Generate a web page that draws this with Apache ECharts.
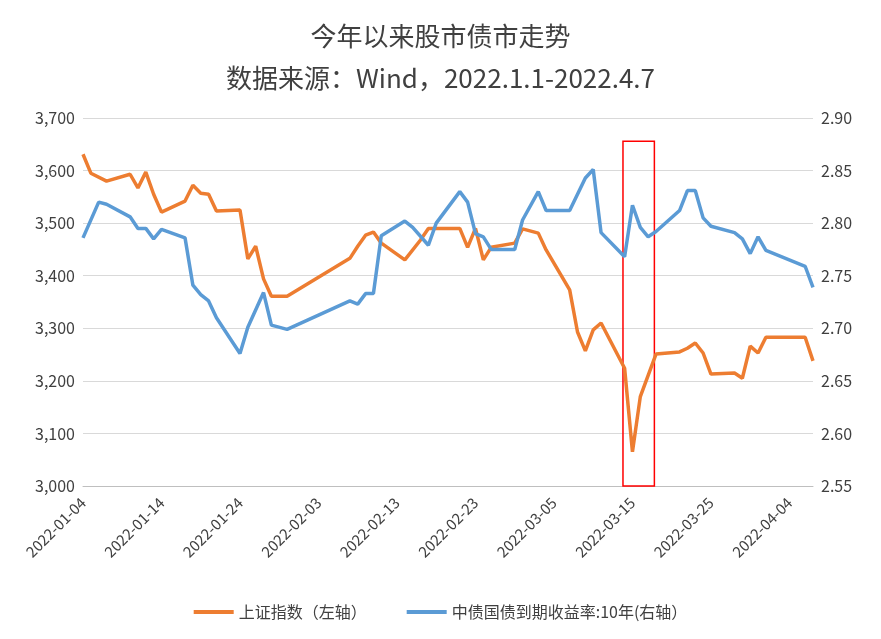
<!DOCTYPE html>
<html>
<head>
<meta charset="UTF-8">
<script src="https://cdn.jsdelivr.net/npm/echarts@6/dist/echarts.min.js"></script>
<style>html,body{margin:0;padding:0;background:#fff}#chart{width:881px;height:639px}</style>
</head>
<body>
<div id="chart"></div>
<script>
// 上证指数（左轴）
var shDates = ['01-04','01-05','01-07','01-10','01-11','01-12','01-13','01-14','01-17','01-18','01-19','01-20','01-21','01-24','01-25','01-26','01-27','01-28','01-30','02-07','02-08','02-09','02-10','02-11','02-14','02-16','02-17','02-21','02-22','02-23','02-24','02-25','02-28','03-01','03-03','03-04','03-07','03-08','03-09','03-10','03-11','03-14','03-15','03-16','03-18','03-21','03-22','03-23','03-24','03-25','03-28','03-29','03-30','03-31','04-01','04-06','04-07'];
var shValues = [3631,3595,3580,3593,3567,3597,3555,3521,3542,3572,3557,3555,3523,3525,3432,3456,3394,3361,3361,3433,3456,3477,3483,3462,3430,3468,3490,3490,3454,3490,3430,3454,3462,3489,3481,3449,3373,3293,3257,3297,3310,3224,3065,3170,3251,3255,3262,3272,3253,3213,3215,3205,3266,3253,3283,3283,3238];
// 中债国债到期收益率:10年（右轴）
var bondDates = ['01-04','01-06','01-07','01-10','01-11','01-12','01-13','01-14','01-17','01-18','01-19','01-20','01-21','01-24','01-25','01-27','01-28','01-30','02-07','02-08','02-09','02-10','02-11','02-14','02-15','02-17','02-18','02-21','02-22','02-23','02-24','02-25','02-28','03-01','03-03','03-04','03-07','03-09','03-10','03-11','03-14','03-15','03-16','03-17','03-18','03-21','03-22','03-23','03-24','03-25','03-28','03-29','03-30','03-31','04-01','04-06','04-07'];
var bondValues = [2.786,2.820,2.818,2.806,2.795,2.795,2.785,2.794,2.786,2.741,2.732,2.726,2.710,2.676,2.701,2.734,2.703,2.699,2.726,2.723,2.733,2.733,2.788,2.802,2.796,2.779,2.800,2.830,2.820,2.790,2.787,2.775,2.775,2.803,2.830,2.812,2.812,2.843,2.851,2.791,2.768,2.817,2.796,2.787,2.792,2.812,2.831,2.831,2.805,2.797,2.791,2.785,2.771,2.787,2.774,2.759,2.739];

var DAY = 86400000;
function ts(md) { var p = md.split('-'); return Date.UTC(2022, +p[0] - 1, +p[1]); }
function pad(n) { return n < 10 ? '0' + n : '' + n; }
var start = ts('01-04');

var chart = echarts.init(document.getElementById('chart'));
chart.setOption({
	animation: false,
	textStyle: {fontFamily: 'Noto Sans CJK SC'},
	title: {
		text: '今年以来股市债市走势\n数据来源：Wind，2022.1.1-2022.4.7',
		left: 'center', top: 10,
		textStyle: {fontSize: 26, fontWeight: 'normal', color: '#404040', lineHeight: 42}
	},
	legend: {
		bottom: 14, itemGap: 40, itemWidth: 40, itemHeight: 4,
		textStyle: {fontSize: 16, color: '#404040'},
		data: [{name: '上证指数（左轴）', icon: 'rect'}, {name: '中债国债到期收益率:10年(右轴）', icon: 'rect'}]
	},
	grid: {left: 83, right: 68, top: 118, bottom: 153},
	xAxis: {
		type: 'value', min: start, max: start + 93 * DAY, interval: 10 * DAY,
		axisLine: {lineStyle: {color: '#bfbfbf'}},
		axisTick: {show: false},
		splitLine: {show: false},
		axisLabel: {
			rotate: 45, fontSize: 15, color: '#404040', showMaxLabel: false, margin: 14,
			formatter: function (v) { var d = new Date(v); return d.getUTCFullYear() + '-' + pad(d.getUTCMonth() + 1) + '-' + pad(d.getUTCDate()); }
		}
	},
	yAxis: [{
		type: 'value', min: 3000, max: 3700, interval: 100,
		axisLine: {show: false}, axisTick: {show: false},
		splitLine: {lineStyle: {color: '#d9d9d9', width: 1}},
		axisLabel: {fontSize: 16, color: '#404040', formatter: function (v) { return v.toLocaleString('en-US'); }}
	}, {
		type: 'value', min: 2.55, max: 2.90, interval: 0.05,
		axisLine: {show: false}, axisTick: {show: false}, splitLine: {show: false},
		axisLabel: {fontSize: 16, color: '#404040', formatter: function (v) { return v.toFixed(2); }}
	}],
	series: [{
		name: '上证指数（左轴）', type: 'line', yAxisIndex: 0, showSymbol: false,
		color: '#ED7D31', lineStyle: {width: 3.5},
		data: shDates.map(function (d, i) { return [ts(d), shValues[i]]; }),
		markArea: {
			silent: true,
			itemStyle: {color: 'rgba(0,0,0,0)', borderColor: '#ff0000', borderWidth: 1.5},
			data: [[{xAxis: ts('03-13') + 19 * 3600000, yAxis: 3656}, {xAxis: ts('03-17') + 19 * 3600000, yAxis: 3000}]]
		}
	}, {
		name: '中债国债到期收益率:10年(右轴）', type: 'line', yAxisIndex: 1, showSymbol: false,
		color: '#5B9BD5', lineStyle: {width: 3.5},
		data: bondDates.map(function (d, i) { return [ts(d), bondValues[i]]; })
	}]
});
</script>
</body>
</html>
